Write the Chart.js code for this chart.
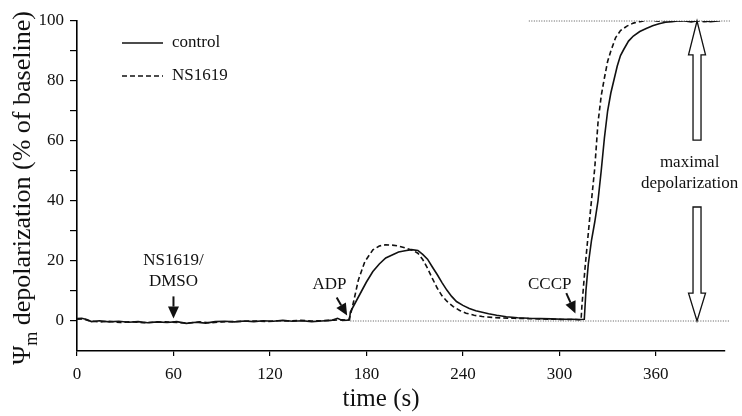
<!DOCTYPE html>
<html>
<head>
<meta charset="utf-8">
<script src="https://cdn.jsdelivr.net/npm/chart.js@4.4.1/dist/chart.umd.min.js"></script>
<style>
  html, body { margin: 0; padding: 0; background: #fff; }
  #wrap { width: 742px; height: 416px; }
</style>
</head>
<body>
<div id="wrap"><canvas id="chart" width="742" height="416"></canvas></div>
<script>
// traces (time in s, value in % of baseline)
const controlTime = [0, 3, 6, 9, 14, 20, 26, 32, 38, 44,
  50, 56, 62, 68, 74, 80, 86, 92, 98, 104,
  110, 116, 122, 128, 134, 140, 146, 152, 158, 162,
  165, 168, 169.5, 170, 172, 174, 177, 180, 184, 188,
  192, 196, 200, 204, 208, 212, 215, 218, 221, 224,
  227, 230, 233, 236, 240, 244, 248, 252, 256, 261,
  267, 274, 281, 288, 295, 302, 308, 312, 315.5, 316.5,
  318, 320, 322, 324, 326, 328, 330, 332, 334, 336,
  338, 340, 343, 346, 350, 354, 358, 362, 366, 370,
  376, 382, 388, 394, 400];
const controlValues = [0.8, 0.9, 0.5, -0.2, 0.1, -0.3, -0.1, -0.4, -0.2, -0.6,
  -0.3, -0.5, -0.2, -0.8, -0.4, -0.7, -0.2, -0.1, -0.3, 0.0,
  -0.2, 0.1, -0.1, 0.2, -0.1, 0.1, -0.2, 0.0, 0.2, 0.9,
  0.2, 0.3, 0.4, 3.0, 5.0, 7.0, 10.0, 13.0, 16.5, 19.0,
  21.0, 22.0, 23.0, 23.4, 23.8, 23.5, 22.2, 20.6, 18.0, 15.5,
  12.8, 10.3, 8.2, 6.5, 5.2, 4.2, 3.4, 2.9, 2.4, 1.9,
  1.4, 1.1, 0.9, 0.8, 0.7, 0.6, 0.6, 0.5, 0.6, 10,
  19, 27, 33, 40, 50, 61, 70, 76, 80.5, 85,
  88.5, 90.5, 93.3, 95, 96.5, 97.5, 98.4, 99.1, 99.6, 99.8,
  100.2, 99.7, 100.3, 99.8, 100.1];

const nsTime = [0, 4, 8, 14, 20, 27, 34, 41, 48, 55,
  62, 69, 76, 83, 90, 97, 104, 111, 118, 125,
  132, 139, 146, 153, 160, 165, 169, 170.5, 172, 175,
  179, 184, 188, 192, 196, 200, 205, 209, 212, 215,
  218, 221, 224, 227, 230, 234, 238, 242, 247, 252,
  258, 265, 272, 280, 288, 296, 304, 310, 313.5, 314,
  316, 319, 322, 324, 326, 328, 330, 332, 335, 338,
  342, 346, 350, 356, 362, 368, 375, 382, 390, 398];
const nsValues = [0.6, 0.7, 0.0, -0.3, -0.1, -0.5, -0.2, -0.6, -0.4, -0.3,
  -0.5, -0.7, -0.3, -0.6, -0.3, -0.2, -0.1, 0.0, -0.2, 0.1,
  0.0, 0.2, 0.0, 0.1, 0.3, 0.4, 0.3, 3.0, 6.4, 13.7,
  19.8, 23.7, 25.0, 25.4, 25.3, 25.0, 24.2, 23.5, 22.6, 20.5,
  17.6, 14.2, 11.0, 8.4, 6.6, 4.8, 3.5, 2.6, 1.9, 1.5,
  1.2, 1.0, 0.9, 0.8, 0.7, 0.6, 0.5, 0.5, 0.4, 5.0,
  18, 35, 51, 66, 75, 81, 86.5, 90, 94.5, 96.8,
  98.3, 99.3, 99.8, 100.3, 99.9, 100.2, 100.0, 100.3, 99.8, 100.1];

// dotted reference levels (baseline and maximal depolarization)
const baseRefTime = [170, 406];
const baseRefValues = [0, 0];
const maxRefTime = [281, 406];
const maxRefValues = [100, 100];

const xTicks = [0, 60, 120, 180, 240, 300, 360];

const serif = "'Liberation Serif', 'Times New Roman', serif";
const ink = '#111';

function pts(xs, ys) {
  return xs.map((x, i) => ({ x: x, y: ys[i] }));
}

// labels and arrows, placed in data units
const notes = [
  { lines: ['NS1619/', 'DMSO'], x: 60, y: 20.3, arrow: [60, 8.2, 60, 0.8] },
  { lines: ['ADP'], x: 157, y: 12, arrow: [161.5, 7.8, 168, 1.8] },
  { lines: ['CCCP'], x: 294, y: 12, arrow: [304.3, 9.3, 310, 2.5] },
  { lines: ['maximal', 'depolarization'], x: 381, y: 52.7 }
];
const bigArrows = [
  { x: 385.6, tail: 60.3, base: 88.7, tip: 100 },
  { x: 385.6, tail: 38, base: 9.3, tip: 0 }
];

const extras = {
  id: 'extras',
  afterDraw(chart) {
    const ctx = chart.ctx;
    const xs = chart.scales.x, ys = chart.scales.y;
    const area = chart.chartArea;
    ctx.save();
    ctx.fillStyle = ink;
    ctx.strokeStyle = ink;

    // legend
    ctx.font = '17px ' + serif;
    ctx.textBaseline = 'middle';
    ctx.textAlign = 'left';
    chart.data.datasets.filter(d => d.inLegend).forEach((d, i) => {
      const y = area.top + 22 + i * 33;
      ctx.lineWidth = 1.5;
      ctx.setLineDash(d.borderDash || []);
      ctx.beginPath();
      ctx.moveTo(area.left + 45, y);
      ctx.lineTo(area.left + 86, y);
      ctx.stroke();
      ctx.setLineDash([]);
      ctx.fillText(d.label, area.left + 95, y);
    });

    // text notes with small filled arrows
    ctx.textAlign = 'center';
    notes.forEach(n => {
      const cx = xs.getPixelForValue(n.x);
      const cy = ys.getPixelForValue(n.y);
      n.lines.forEach((t, i) => ctx.fillText(t, cx, cy + i * 21));
      if (n.arrow) {
        const x1 = xs.getPixelForValue(n.arrow[0]), y1 = ys.getPixelForValue(n.arrow[1]);
        const x2 = xs.getPixelForValue(n.arrow[2]), y2 = ys.getPixelForValue(n.arrow[3]);
        const a = Math.atan2(y2 - y1, x2 - x1);
        const hl = 12, hw = 5.5;
        const bx = x2 - hl * Math.cos(a), by = y2 - hl * Math.sin(a);
        ctx.lineWidth = 2;
        ctx.beginPath();
        ctx.moveTo(x1, y1);
        ctx.lineTo(bx, by);
        ctx.stroke();
        ctx.beginPath();
        ctx.moveTo(x2, y2);
        ctx.lineTo(bx + hw * Math.sin(a), by - hw * Math.cos(a));
        ctx.lineTo(bx - hw * Math.sin(a), by + hw * Math.cos(a));
        ctx.closePath();
        ctx.fill();
      }
    });

    // hollow block arrows
    ctx.lineWidth = 1.3;
    bigArrows.forEach(b => {
      const cx = xs.getPixelForValue(b.x);
      const yt = ys.getPixelForValue(b.tail);
      const yb = ys.getPixelForValue(b.base);
      const yp = ys.getPixelForValue(b.tip);
      const sw = 4, hw = 8.5;
      ctx.fillStyle = '#fff';
      ctx.beginPath();
      ctx.moveTo(cx - sw, yt);
      ctx.lineTo(cx - sw, yb);
      ctx.lineTo(cx - hw, yb);
      ctx.lineTo(cx, yp);
      ctx.lineTo(cx + hw, yb);
      ctx.lineTo(cx + sw, yb);
      ctx.lineTo(cx + sw, yt);
      ctx.closePath();
      ctx.fill();
      ctx.stroke();
    });
    ctx.fillStyle = ink;

    // x title
    ctx.font = '25px ' + serif;
    ctx.textAlign = 'center';
    ctx.textBaseline = 'alphabetic';
    ctx.fillText('time (s)', 381, 406);

    // y title with subscript
    const main = ' depolarization (% of baseline)';
    ctx.font = '26px ' + serif;
    const wPsi = ctx.measureText('\u03A8').width;
    const wMain = ctx.measureText(main).width;
    ctx.font = '18px ' + serif;
    const wSub = ctx.measureText('m').width;
    const total = wPsi + wSub + wMain;
    ctx.translate(30, 188);
    ctx.rotate(-Math.PI / 2);
    ctx.textAlign = 'left';
    let p = -total / 2;
    ctx.font = '26px ' + serif;
    ctx.fillText('\u03A8', p, 0);
    p += wPsi;
    ctx.font = '18px ' + serif;
    ctx.fillText('m', p, 7);
    p += wSub;
    ctx.font = '26px ' + serif;
    ctx.fillText(main, p, 0);

    ctx.restore();
  }
};

new Chart(document.getElementById('chart'), {
  type: 'line',
  data: {
    datasets: [
      {
        label: 'control',
        data: pts(controlTime, controlValues),
        borderColor: ink,
        borderWidth: 1.6,
        pointRadius: 0,
        tension: 0,
        inLegend: true
      },
      {
        label: 'NS1619',
        data: pts(nsTime, nsValues),
        borderColor: ink,
        borderWidth: 1.6,
        borderDash: [5, 3],
        pointRadius: 0,
        tension: 0,
        inLegend: true
      },
      {
        label: 'baseline',
        data: pts(baseRefTime, baseRefValues),
        borderColor: '#555',
        borderWidth: 1,
        borderDash: [1, 1.5],
        pointRadius: 0,
        clip: false
      },
      {
        label: 'maximum',
        data: pts(maxRefTime, maxRefValues),
        borderColor: '#555',
        borderWidth: 1,
        borderDash: [1, 1.5],
        pointRadius: 0,
        clip: false
      }
    ]
  },
  options: {
    responsive: false,
    animation: false,
    events: [],
    layout: { padding: { left: 0, right: 17, top: 21, bottom: 0 } },
    plugins: { legend: { display: false }, tooltip: { enabled: false } },
    scales: {
      x: {
        type: 'linear',
        min: 0,
        max: 403,
        afterBuildTicks: s => { s.ticks = xTicks.map(v => ({ value: v })); },
        afterFit: s => { s.height = 65; },
        ticks: { color: ink, font: { family: serif, size: 17 }, padding: 8, maxRotation: 0 },
        grid: { drawOnChartArea: false, drawTicks: true, tickLength: 5, color: '#000', lineWidth: 1.2 },
        border: { color: '#000', width: 1.6 }
      },
      y: {
        min: -10,
        max: 100,
        afterBuildTicks: s => { s.ticks = s.ticks.filter(t => t.value >= 0); },
        afterFit: s => { s.width = 77; },
        ticks: {
          stepSize: 10,
          color: ink,
          font: { family: serif, size: 17 },
          padding: 6,
          callback: v => (v % 20 === 0 ? v : '')
        },
        grid: { drawOnChartArea: false, drawTicks: true, tickLength: 7, color: '#000', lineWidth: 1.2 },
        border: { color: '#000', width: 1.6 }
      }
    }
  },
  plugins: [extras]
});
</script>
</body>
</html>
